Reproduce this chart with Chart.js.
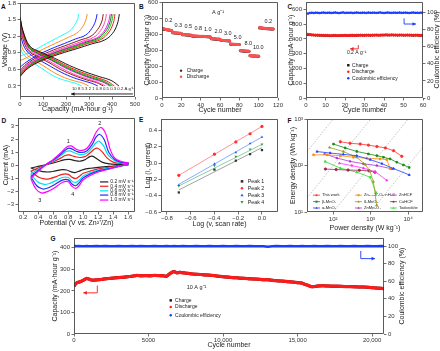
<!DOCTYPE html>
<html>
<head>
<meta charset="utf-8">
<script src="https://cdn.jsdelivr.net/npm/chart.js@4.4.1/dist/chart.umd.min.js"></script>
<style>
html, body { margin: 0; padding: 0; background: #fff; }
body { width: 440px; height: 351px; position: relative; overflow: hidden; font-family: "Liberation Sans", Arial, sans-serif; }
canvas { position: absolute; }
.lab { position: absolute; font-weight: bold; font-size: 6.5px; line-height: 1; color: #111; }
</style>
</head>
<body>
<div class="lab" style="left:1px;top:4px">A</div>
<div class="lab" style="left:139px;top:3.5px">B</div>
<div class="lab" style="left:287.5px;top:3.5px">C</div>
<div class="lab" style="left:1.5px;top:117.5px">D</div>
<div class="lab" style="left:139px;top:117px">E</div>
<div class="lab" style="left:287.5px;top:117.5px">F</div>
<div class="lab" style="left:50.5px;top:236px">G</div>
<canvas id="cA"></canvas>
<canvas id="cB"></canvas>
<canvas id="cC"></canvas>
<canvas id="cD"></canvas>
<canvas id="cE"></canvas>
<canvas id="cF"></canvas>
<canvas id="cG"></canvas>
<script>
// ---------- A: charge / discharge profiles ----------
const ratesA = ['0.2', '0.3', '0.5', '0.8', '1.0', '2.0', '3.0', '5.0', '8.0', '10'];
const disCap = [
  [0, 13, 43, 86, 151, 215, 280, 344, 396, 430],
  [0, 12, 41, 82, 144, 205, 267, 328, 377, 410],
  [0, 12, 40, 80, 141, 201, 261, 322, 370, 402],
  [0, 12, 40, 79, 138, 198, 257, 316, 363, 395],
  [0, 12, 39, 78, 137, 195, 254, 312, 359, 390],
  [0, 11, 37, 74, 130, 186, 242, 298, 342, 372],
  [0, 11, 36, 72, 127, 181, 235, 290, 333, 362],
  [0, 10, 34, 68, 118, 169, 220, 270, 311, 338],
  [0, 9, 30, 60, 104, 149, 194, 238, 274, 298],
  [0, 8, 27, 54, 94, 134, 174, 214, 247, 268]
];
const disV = [
  [1.55, 1.3, 1.02, 0.92, 0.8, 0.67, 0.56, 0.47, 0.4, 0.3],
  [1.55, 1.29, 1.01, 0.91, 0.79, 0.66, 0.55, 0.46, 0.39, 0.3],
  [1.54, 1.28, 1.0, 0.9, 0.78, 0.65, 0.54, 0.45, 0.38, 0.3],
  [1.53, 1.27, 0.99, 0.89, 0.77, 0.64, 0.53, 0.44, 0.38, 0.3],
  [1.52, 1.25, 0.98, 0.88, 0.76, 0.63, 0.52, 0.43, 0.37, 0.3],
  [1.5, 1.22, 0.96, 0.86, 0.74, 0.61, 0.5, 0.42, 0.36, 0.3],
  [1.45, 1.18, 0.94, 0.84, 0.72, 0.59, 0.49, 0.41, 0.36, 0.3],
  [1.38, 1.1, 0.91, 0.81, 0.69, 0.57, 0.47, 0.4, 0.35, 0.3],
  [1.22, 1.0, 0.87, 0.77, 0.66, 0.54, 0.45, 0.39, 0.35, 0.3],
  [1.1, 0.92, 0.82, 0.73, 0.62, 0.51, 0.43, 0.38, 0.34, 0.3]
];
const chgCap = [
  [0, 35, 95, 173, 251, 311, 367, 402, 423, 432],
  [0, 33, 91, 165, 240, 297, 351, 384, 405, 413],
  [0, 32, 89, 162, 235, 292, 344, 377, 397, 405],
  [0, 32, 88, 159, 231, 287, 338, 370, 390, 398],
  [0, 31, 86, 157, 227, 282, 333, 365, 384, 392],
  [0, 30, 83, 150, 218, 271, 320, 350, 368, 376],
  [0, 29, 80, 145, 210, 261, 308, 337, 355, 362],
  [0, 27, 74, 134, 194, 241, 285, 312, 328, 335],
  [0, 23, 64, 117, 169, 210, 248, 272, 286, 292],
  [0, 20, 56, 102, 148, 184, 217, 237, 250, 255]
];
const chgV = [
  [0.47, 0.62, 0.76, 0.88, 0.98, 1.06, 1.13, 1.25, 1.42, 1.6],
  [0.48, 0.63, 0.77, 0.89, 0.99, 1.07, 1.14, 1.26, 1.43, 1.6],
  [0.5, 0.64, 0.78, 0.9, 1.0, 1.08, 1.15, 1.27, 1.44, 1.6],
  [0.52, 0.65, 0.79, 0.91, 1.01, 1.09, 1.16, 1.28, 1.44, 1.6],
  [0.54, 0.67, 0.8, 0.92, 1.02, 1.1, 1.17, 1.29, 1.45, 1.6],
  [0.56, 0.68, 0.81, 0.93, 1.03, 1.11, 1.18, 1.3, 1.45, 1.6],
  [0.58, 0.7, 0.83, 0.95, 1.05, 1.13, 1.2, 1.32, 1.46, 1.6],
  [0.64, 0.73, 0.85, 0.97, 1.07, 1.15, 1.22, 1.34, 1.47, 1.6],
  [0.76, 0.8, 0.89, 1.0, 1.1, 1.18, 1.26, 1.37, 1.49, 1.6],
  [0.84, 0.87, 0.93, 1.04, 1.14, 1.22, 1.3, 1.4, 1.5, 1.6]
];

// ---------- B: rate performance ----------
const disB = [
  436, 433, 431, 429, 428, 427, 426, 425, 424, 423,
  410, 409, 408, 408, 407, 407, 406, 406, 405, 405,
  398, 397, 397, 396, 396, 395, 395, 395, 394, 394,
  390, 389, 389, 388, 388, 388, 387, 387, 387, 386,
  387, 386, 386, 385, 385, 385, 384, 384, 384, 383,
  372, 371, 371, 370, 370, 370, 369, 369, 369, 368,
  362, 361, 361, 360, 360, 360, 359, 359, 359, 358,
  339, 338, 337, 337, 336, 336, 336, 335, 335, 335,
  297, 296, 296, 295, 295, 295, 294, 294, 294, 293,
  266, 265, 264, 264, 263, 263, 263, 262, 262, 262,
  442, 440, 439, 438, 437, 436, 436, 435, 435, 434, 434, 433, 433, 432, 432
];
const chgB = [
  430, 431, 429, 428, 427, 426, 425, 424, 423, 422,
  408, 408, 407, 406, 406, 405, 405, 404, 404, 404,
  396, 396, 395, 395, 394, 394, 394, 393, 393, 393,
  388, 388, 387, 387, 387, 386, 386, 386, 385, 385,
  385, 385, 384, 384, 384, 383, 383, 383, 382, 382,
  370, 370, 369, 369, 369, 368, 368, 368, 367, 367,
  360, 360, 359, 359, 359, 358, 358, 358, 357, 357,
  337, 337, 336, 336, 335, 335, 335, 334, 334, 334,
  295, 295, 294, 294, 294, 293, 293, 293, 292, 292,
  264, 264, 263, 263, 262, 262, 262, 261, 261, 261,
  438, 439, 438, 437, 436, 435, 435, 434, 434, 433, 433, 432, 432, 431, 431
];
const rateLabB = ['0.2', '0.3', '0.5', '0.8', '1.0', '2.0', '3.0', '5.0', '8.0', '10.0', '0.2'];
const rateLabX = [6.7, 16.9, 27.2, 37.6, 47.3, 58.3, 68, 78.3, 89.3, 99.6, 110];
const rateLabY = [483, 456, 450, 436, 429, 414, 404, 377, 342, 314, 477];

// ---------- C: cycling at 0.2 A/g ----------
const disC = [
  432, 430, 428, 427, 426, 426, 425, 425, 424, 424,
  424, 423, 423, 424, 424, 423, 423, 424, 424, 425,
  424, 424, 425, 425, 424, 425, 425, 426, 425, 425,
  426, 426, 425, 426, 426, 427, 426, 426, 427, 427,
  428, 427, 427, 428, 427, 427, 426, 427, 427, 426,
  426, 427, 426, 426, 425, 426, 426, 425, 425, 425
];
const chgC = [
  428, 428, 427, 426, 425, 425, 424, 424, 423, 423,
  423, 422, 422, 423, 423, 422, 422, 423, 423, 424,
  423, 423, 424, 424, 423, 424, 424, 425, 424, 424,
  425, 425, 424, 425, 425, 426, 425, 425, 426, 426,
  427, 426, 426, 427, 426, 426, 425, 426, 426, 425,
  425, 426, 425, 425, 424, 425, 425, 424, 424, 424
];
const ceC = [
  98.6, 99.4, 99.6, 99.3, 99.7, 99.5, 99.2, 99.6, 99.8, 99.4,
  99.5, 99.7, 99.3, 99.6, 99.8, 99.5, 99.2, 99.6, 99.9, 99.4,
  99.6, 99.5, 99.7, 99.3, 99.6, 99.8, 99.5, 99.4, 99.7, 99.6,
  99.3, 99.8, 99.5, 99.6, 99.7, 99.4, 99.6, 99.9, 99.5, 99.3,
  99.6, 99.8, 99.5, 99.4, 99.7, 99.6, 99.5, 99.8, 99.4, 99.6,
  99.7, 99.5, 99.3, 99.6, 99.8, 99.5, 99.6, 99.4, 99.7, 99.5
];

// ---------- D: CV curves (V, mA) ----------
const scanD = ['0.2 mV s⁻¹', '0.4 mV s⁻¹', '0.6 mV s⁻¹', '0.8 mV s⁻¹', '1.0 mV s⁻¹'];
const cv02 = [[0.3,-0.2],[0.4,-0.08],[0.5,0.05],[0.6,0.18],[0.7,0.35],[0.76,0.44],[0.82,0.45],[0.9,0.35],[0.96,0.32],[1.03,0.45],[1.08,0.65],[1.12,0.7],[1.18,0.5],[1.25,0.25],[1.35,0.12],[1.45,0.08],[1.6,0.06],
  [1.6,0.04],[1.5,-0.02],[1.4,-0.05],[1.3,-0.1],[1.2,-0.15],[1.1,-0.22],[1.0,-0.32],[0.94,-0.45],[0.89,-0.55],[0.84,-0.5],[0.78,-0.35],[0.72,-0.32],[0.63,-0.42],[0.55,-0.5],[0.46,-0.47],[0.38,-0.35],[0.3,-0.2]];
const cv04 = [[0.3,-0.45],[0.4,-0.2],[0.5,0.05],[0.6,0.28],[0.7,0.55],[0.76,0.75],[0.81,0.8],[0.88,0.68],[0.96,0.6],[1.04,0.72],[1.1,1.0],[1.15,1.25],[1.19,1.3],[1.25,1.05],[1.32,0.55],[1.4,0.25],[1.5,0.15],[1.6,0.12],
  [1.6,0.08],[1.5,-0.03],[1.4,-0.1],[1.3,-0.18],[1.2,-0.27],[1.1,-0.42],[1.0,-0.6],[0.95,-0.82],[0.9,-1.0],[0.85,-0.9],[0.8,-0.68],[0.72,-0.68],[0.63,-0.88],[0.55,-1.02],[0.5,-1.05],[0.4,-0.88],[0.3,-0.45]];
const cv06 = [[0.3,-0.65],[0.4,-0.3],[0.5,0.05],[0.6,0.35],[0.7,0.75],[0.77,1.05],[0.82,1.1],[0.9,0.92],[0.97,0.82],[1.05,0.95],[1.12,1.35],[1.17,1.72],[1.21,1.85],[1.27,1.5],[1.33,0.8],[1.42,0.35],[1.5,0.2],[1.6,0.15],
  [1.6,0.1],[1.5,-0.04],[1.4,-0.15],[1.3,-0.25],[1.2,-0.35],[1.1,-0.55],[1.0,-0.8],[0.95,-1.1],[0.9,-1.3],[0.85,-1.2],[0.8,-0.92],[0.72,-0.92],[0.62,-1.2],[0.54,-1.4],[0.48,-1.45],[0.39,-1.25],[0.3,-0.65]];
const cv08 = [[0.3,-0.85],[0.4,-0.38],[0.5,0.05],[0.6,0.4],[0.7,0.85],[0.78,1.25],[0.83,1.3],[0.9,1.1],[0.97,0.98],[1.05,1.12],[1.12,1.6],[1.17,2.15],[1.22,2.35],[1.28,1.95],[1.34,1.0],[1.42,0.45],[1.5,0.25],[1.6,0.18],
  [1.6,0.12],[1.5,-0.05],[1.4,-0.18],[1.3,-0.3],[1.2,-0.42],[1.1,-0.65],[1.0,-0.95],[0.95,-1.3],[0.9,-1.55],[0.85,-1.42],[0.8,-1.1],[0.72,-1.12],[0.62,-1.45],[0.53,-1.72],[0.46,-1.8],[0.38,-1.55],[0.3,-0.85]];
const cv10 = [[0.3,-1.0],[0.4,-0.45],[0.5,0.05],[0.6,0.45],[0.7,0.95],[0.78,1.4],[0.84,1.48],[0.9,1.25],[0.97,1.12],[1.05,1.3],[1.12,1.9],[1.18,2.6],[1.24,2.88],[1.3,2.4],[1.36,1.2],[1.42,0.55],[1.5,0.3],[1.6,0.2],
  [1.6,0.15],[1.5,-0.05],[1.4,-0.2],[1.3,-0.35],[1.2,-0.5],[1.1,-0.75],[1.0,-1.1],[0.95,-1.5],[0.9,-1.75],[0.85,-1.6],[0.8,-1.25],[0.72,-1.3],[0.62,-1.7],[0.52,-2.0],[0.44,-2.1],[0.37,-1.8],[0.3,-1.0]];

// ---------- E: log(i) vs log(v) ----------
const logV = [-0.7, -0.4, -0.22, -0.1, 0];
const peak1 = [-0.36, -0.08, 0.03, 0.11, 0.16];
const peak2 = [-0.15, 0.11, 0.26, 0.36, 0.45];
const peak3 = [-0.27, -0.01, 0.13, 0.24, 0.32];
const peak4 = [-0.28, -0.03, 0.08, 0.17, 0.23];
const fitX = [-0.7, 0];
const fit1 = [-0.33, 0.19];
const fit2 = [-0.15, 0.45];
const fit3 = [-0.26, 0.32];
const fit4 = [-0.28, 0.23];

// ---------- F: Ragone plot (W/kg, Wh/kg) ----------
const thisP = [155, 282, 525, 870, 1470, 2470, 4100, 6800];
const thisE = [325, 302, 290, 275, 257, 240, 209, 158];
const betaP = [102, 209, 427, 870, 1470, 2200, 3300, 5000, 7500, 10700];
const betaE = [290, 240, 201, 178, 163, 151, 139, 118, 103, 91];
const alphaP = [37, 83, 187, 427, 975, 2000, 4100, 10700];
const alphaE = [200, 186, 174, 163, 134, 110, 86, 63];
const znvP = [30, 68, 155, 347, 790, 1780, 2700, 3300];
const znvE = [170, 170, 163, 151, 144, 139, 134, 86];
const deltaP = [80, 187, 427, 720, 960, 1180, 1450];
const deltaE = [245, 200, 150, 105, 75, 45, 14];
const znmnP = [59, 126, 282, 645, 1470, 3700];
const znmnE = [178, 145, 123, 109, 100, 85];
const znhcfP = [147, 315, 645, 1320, 2700];
const znhcfE = [112, 100, 88, 74, 48];
const cuhcfP = [62, 120, 250, 500, 900, 1300];
const cuhcfE = [84, 82, 80, 79, 77, 72];
const todoP = [61, 155, 427, 975, 1400];
const todoE = [122, 88, 72, 56, 26];
const guideP = [[20, 100], [20, 1000], [100, 10000], [1000, 25000]];
const guideE = [[200, 1000], [20, 1000], [10, 1000], [10, 250]];

// ---------- G: long cycling at 10 A/g ----------
const cycG = [0, 100, 200, 300, 500, 700, 850, 1000, 1200, 1500,
  1800, 2100, 2400, 2700, 3000, 3300, 3600, 3900, 4200, 4500,
  4800, 5100, 5400, 5700, 6000, 6200, 6400, 6600, 6700, 6900,
  7100, 7300, 7600, 7900, 8200, 8500, 8800, 9100, 9400, 9700,
  10000, 10300, 10600, 10900, 11200, 11500, 11800, 12100, 12400, 12700,
  13000, 13300, 13600, 13900, 14200, 14500, 14800, 15100, 15300, 15500,
  15700, 15900, 16100, 16400, 16700, 17000, 17300, 17600, 17900, 18200,
  18500, 18800, 19100, 19400, 19700, 20000, 20300, 20600, 20800];
const disG = [222, 232, 238, 240, 245, 252, 258, 255, 250, 251,
  253, 256, 258, 260, 262, 263, 266, 268, 272, 270,
  271, 270, 272, 271, 270, 268, 278, 287, 290, 284,
  286, 284, 282, 279, 277, 276, 274, 273, 271, 268,
  266, 264, 262, 261, 259, 258, 256, 255, 254, 252,
  252, 249, 247, 246, 244, 242, 240, 238, 236, 230,
  226, 220, 220, 223, 224, 223, 222, 222, 221, 220,
  220, 219, 218, 218, 217, 215, 213, 212, 210];
const ceG = [99.6, 99.9, 99.8, 99.9, 99.7, 99.8, 99.9, 99.8, 99.7, 99.9,
  99.8, 99.9, 99.7, 99.8, 99.9, 99.8, 99.7, 99.9, 99.8, 99.9,
  99.8, 99.7, 99.9, 99.8, 99.8, 99.9, 99.7, 99.8, 99.9, 99.8,
  99.7, 99.9, 99.8, 99.8, 99.9, 99.7, 99.8, 99.9, 99.8, 99.7,
  99.9, 99.8, 99.8, 99.9, 99.7, 99.8, 99.9, 99.8, 99.7, 99.8,
  99.2, 99.8, 99.9, 99.7, 99.8, 99.9, 99.8, 99.7, 99.9, 99.8,
  99.8, 99.7, 99.9, 99.8, 99.8, 99.9, 99.7, 99.8, 99.9, 99.8,
  99.7, 99.9, 99.8, 99.8, 99.9, 99.7, 99.8, 99.9, 99.8];

// ================= drawing =================
const FF = '"Liberation Sans", Arial, Helvetica, sans-serif';
Chart.defaults.font.family = FF;
const DECO = {};

const fmt1 = v => (v < 0 ? '\u2212' : '') + Math.abs(v).toFixed(1);
const fmtI = v => (v < 0 ? '\u2212' : '') + Math.abs(v);
const sup = {1: '¹', 2: '²', 3: '³', 4: '⁴'};
const fmtLog = v => '10' + sup[Math.round(Math.log10(v))];
const fmtK = v => v >= 10000 ? v.toLocaleString('en-US') : String(v);

// pos, range, tick values, title, reserved size, label format, scale type, tick padding
function axis(pos, min, max, ticks, title, size, fmt, type, tpad) {
  return {
    type: type || 'linear', position: pos, min: min, max: max,
    afterBuildTicks: s => { s.ticks = ticks.map(v => ({ value: v })); },
    afterFit: s => { if (pos === 'bottom') s.height = size; else s.width = size; },
    grid: { drawOnChartArea: false, drawTicks: true, tickLength: 2.5, color: '#333', lineWidth: 0.7 },
    border: { display: false },
    ticks: { font: { size: 6 }, color: '#333', padding: tpad !== undefined ? tpad : (pos === 'bottom' ? 1 : 1.5), maxRotation: 0, autoSkip: false, callback: v => fmt(v) },
    title: { display: !!title && pos !== 'right', text: title, font: { size: 7 }, color: '#222', padding: 0 }
  };
}

function mark(ctx, m, x, y, r, c) {
  ctx.fillStyle = c;
  ctx.beginPath();
  if (m === 'rect') ctx.rect(x - r, y - r, 2 * r, 2 * r);
  else if (m === 'tri') { ctx.moveTo(x, y - r * 1.3); ctx.lineTo(x + r * 1.2, y + r * 0.8); ctx.lineTo(x - r * 1.2, y + r * 0.8); ctx.closePath(); }
  else if (m === 'dtri') { ctx.moveTo(x, y + r * 1.3); ctx.lineTo(x + r * 1.2, y - r * 0.8); ctx.lineTo(x - r * 1.2, y - r * 0.8); ctx.closePath(); }
  else ctx.arc(x, y, r, 0, Math.PI * 2);
  ctx.fill();
}

const decoPlugin = {
  id: 'deco',
  afterDraw(chart) {
    const d = DECO[chart.canvas.id] || {};
    const ctx = chart.ctx, a = chart.chartArea, sc = chart.scales;
    const X = v => sc.x.getPixelForValue(v);
    const Y = (v, ax) => sc[ax || 'y'].getPixelForValue(v);
    ctx.save();
    ctx.strokeStyle = '#333';
    ctx.lineWidth = 0.8;
    ctx.strokeRect(a.left + 0.5, a.top + 0.5, a.right - a.left - 1, a.bottom - a.top - 1);
    ctx.textBaseline = 'middle';
    (d.texts || []).forEach(t => {
      ctx.font = (t.s || 5.5) + 'px ' + FF;
      ctx.fillStyle = t.c || '#222';
      ctx.textAlign = t.al || 'center';
      ctx.fillText(t.t, X(t.x), Y(t.y, t.ax));
    });
    (d.arrows || []).forEach(ar => {
      const p = ar.pts.map(q => [X(q[0]), Y(q[1], ar.ax)]);
      ctx.strokeStyle = ar.c; ctx.fillStyle = ar.c; ctx.lineWidth = 0.9;
      ctx.beginPath();
      p.forEach((q, i) => i ? ctx.lineTo(q[0], q[1]) : ctx.moveTo(q[0], q[1]));
      ctx.stroke();
      const [x2, y2] = p[p.length - 1], [x1, y1] = p[p.length - 2];
      const an = Math.atan2(y2 - y1, x2 - x1), L = 3.5, W = 1.8;
      const bx = x2 - L * Math.cos(an), by = y2 - L * Math.sin(an);
      ctx.beginPath();
      ctx.moveTo(x2, y2);
      ctx.lineTo(bx - W * Math.sin(an), by + W * Math.cos(an));
      ctx.lineTo(bx + W * Math.sin(an), by - W * Math.cos(an));
      ctx.closePath();
      ctx.fill();
    });
    (d.keys || []).forEach(k => {
      const y = Y(k.y, k.ax);
      if (k.line) {
        ctx.strokeStyle = k.c; ctx.lineWidth = k.lw || 0.9;
        ctx.beginPath(); ctx.moveTo(X(k.line[0]), y); ctx.lineTo(X(k.line[1]), y); ctx.stroke();
      }
      if (k.m) mark(ctx, k.m, X(k.x), y, k.r || 1.2, k.c);
      ctx.font = (k.s || 5) + 'px ' + FF;
      ctx.textAlign = 'left';
      ctx.fillStyle = '#222';
      ctx.fillText(k.t, X(k.tx), y);
    });
    if (d.rtitle) {
      ctx.translate(chart.width - 4.2, (a.top + a.bottom) / 2);
      ctx.rotate(-Math.PI / 2);
      ctx.font = '7px ' + FF; ctx.textAlign = 'center'; ctx.fillStyle = '#222';
      ctx.fillText(d.rtitle, 0, 0);
    }
    ctx.restore();
  }
};

function panel(id, area, pad, datasets, scales) {
  const cv = document.getElementById(id);
  const w = area.r - area.l + pad.l + pad.r, h = area.b - area.t + pad.t + pad.b;
  cv.width = w; cv.height = h;
  cv.style.left = (area.l - pad.l) + 'px';
  cv.style.top = (area.t - pad.t) + 'px';
  cv.style.width = w + 'px';
  cv.style.height = h + 'px';
  const right = Object.values(scales).some(s => s.position === 'right');
  return new Chart(cv, {
    type: 'scatter',
    data: { datasets: datasets },
    options: {
      responsive: false, animation: false, devicePixelRatio: 1,
      layout: { autoPadding: false, padding: { left: 0, top: pad.t, right: right ? 0 : pad.r, bottom: 0 } },
      plugins: { legend: { display: false }, tooltip: { enabled: false } },
      scales: scales
    },
    plugins: [decoPlugin]
  });
}

const xy = (xs, ys) => xs.map((x, i) => ({ x: x, y: ys[i] }));
const pairs = arr => arr.map(p => ({ x: p[0], y: p[1] }));
const curve = (data, c, w, extra) => Object.assign({ data: data, showLine: true, borderColor: c, backgroundColor: c, borderWidth: w || 0.9, pointRadius: 0, tension: 0.4 }, extra || {});
const dots = (data, c, r, style, extra) => Object.assign({ data: data, showLine: false, backgroundColor: c, borderColor: c, borderWidth: 0, pointRadius: r, pointStyle: style || 'circle' }, extra || {});

// ---- A ----
const colA = ['#000000', '#ff0000', '#00c000', '#006400', '#ff00ff', '#ff3399', '#800000', '#0000ff', '#ff8000', '#00ffff'];
const dsA = [];
ratesA.forEach((r, i) => {
  dsA.push(curve(xy(chgCap[i], chgV[i]), colA[i]));
  dsA.push(curve(xy(disCap[i], disV[i]), colA[i]));
});
DECO.cA = {
  texts: [{ x: 226, y: 0.25, t: '10 8 5 3 2 1 0.8 0.5 0.3 0.2 A g⁻¹', s: 4.3, al: 'left' }],
  arrows: [{ pts: [[491, 0.155], [222, 0.155]], c: '#111' }]
};
panel('cA', { l: 20, t: 3, r: 135, b: 97 }, { l: 19, r: 7, t: 5, b: 16 }, dsA, {
  x: axis('bottom', 0, 500, [0, 100, 200, 300, 400, 500], 'Capacity (mA·hour g⁻¹)', 16, fmtI),
  y: axis('left', 0.1, 1.8, [0.3, 0.6, 0.9, 1.2, 1.5, 1.8], 'Voltage (V)', 19, fmt1)
});

// ---- B ----
const cycB = disB.map((v, i) => i + 1);
DECO.cB = {
  texts: [{ x: 58, y: 537, t: 'A g⁻¹', s: 5.5 }].concat(rateLabB.map((t, i) => ({ x: rateLabX[i], y: rateLabY[i], t: t, s: 5.5 }))),
  keys: [
    { x: 19.7, y: 171, tx: 25.5, t: 'Charge', m: 'circle', c: '#333' },
    { x: 19.7, y: 133, tx: 25.5, t: 'Discharge', m: 'circle', c: '#ff5050' }
  ]
};
panel('cB', { l: 162, t: 2, r: 278, b: 98 }, { l: 19, r: 7, t: 5, b: 16 }, [
  dots(xy(cycB, disB), '#ff5050', 1.5),
  dots(xy(cycB, chgB), '#333333', 1.5)
], {
  x: axis('bottom', 0, 120, [0, 20, 40, 60, 80, 100, 120], 'Cycle number', 16, fmtI),
  y: axis('left', 0, 600, [0, 100, 200, 300, 400, 500, 600], 'Capacity (mA·hour g⁻¹)', 19, fmtI)
});

// ---- C ----
const cycC = disC.map((v, i) => i + 1);
DECO.cC = {
  texts: [{ x: 21, y: 308, t: '0.2 A g⁻¹', s: 5, al: 'left' }],
  arrows: [
    { pts: [[26.8, 359], [26.8, 333], [22.6, 333]], c: '#ff1a1a' },
    { pts: [[50.3, 93], [50.3, 86.4], [56.4, 86.4]], c: '#1a3cff', ax: 'y1' }
  ],
  keys: [
    { x: 21.7, y: 222, tx: 23.6, t: 'Charge', m: 'rect', c: '#111' },
    { x: 21.7, y: 178, tx: 23.6, t: 'Discharge', m: 'circle', c: '#ff1a1a' },
    { x: 21.7, y: 134, tx: 23.6, t: 'Coulombic efficiency', m: 'circle', c: '#1a3cff' }
  ],
  rtitle: 'Coulombic efficiency (%)'
};
panel('cC', { l: 306, t: 2, r: 423, b: 98 }, { l: 19, r: 18, t: 5, b: 16 }, [
  curve(xy(cycC, ceC), '#1a3cff', 1, { yAxisID: 'y1', tension: 0, pointRadius: 1, pointStyle: 'rect' }),
  curve(xy(cycC, disC), '#ff1a1a', 1, { tension: 0, pointRadius: 1.1 }),
  curve(xy(cycC, chgC), '#111111', 1, { tension: 0, pointRadius: 1, pointStyle: 'rect' })
], {
  x: axis('bottom', 0, 60, [0, 10, 20, 30, 40, 50, 60], 'Cycle number', 16, fmtI),
  y: axis('left', 0, 650, [0, 100, 200, 300, 400, 500, 600], 'Capacity (mA·hour g⁻¹)', 19, fmtI),
  y1: axis('right', 0, 112, [0, 20, 40, 60, 80, 100], 'Coulombic efficiency (%)', 18, fmtI)
});

// ---- D ----
const colD = ['#222222', '#f01e1e', '#00e0ee', '#2030f0', '#ff00ff'];
const cvs = [cv02, cv04, cv06, cv08, cv10];
const legY = [-1.26, -1.59, -1.94, -2.26, -2.64];
DECO.cD = {
  texts: [
    { x: 0.8, y: 1.85, t: '1' }, { x: 1.22, y: 3.2, t: '2' },
    { x: 0.42, y: -2.64, t: '3' }, { x: 0.86, y: -2.21, t: '4' }
  ],
  keys: scanD.map((t, i) => ({ y: legY[i], tx: 1.36, t: t, line: [1.223, 1.334], c: colD[i], lw: 1.2 }))
};
panel('cD', { l: 18, t: 117, r: 135, b: 212 }, { l: 16, r: 6, t: 4, b: 15 },
  cvs.map((c, i) => curve(pairs(c), colD[i], 1.2, { tension: 0.35 })).reverse(), {
  x: axis('bottom', 0.13, 1.69, [0.2, 0.4, 0.6, 0.8, 1.0, 1.2, 1.4, 1.6], 'Potential (V vs. Zn²⁺/Zn)', 15, fmt1, 'linear', -0.5),
  y: axis('left', -3.55, 3.6, [-3, -2, -1, 0, 1, 2, 3], 'Current (mA)', 16, fmtI)
});

// ---- E ----
const colE = ['#333333', '#ff3030', '#2060ff', '#20a040'];
const fitCol = ['#8a8a8a', '#ff7a7a', '#6f95ff', '#6cc48a'];
const peaks = [peak1, peak2, peak3, peak4];
const fits = [fit1, fit2, fit3, fit4];
const shapesE = ['rect', 'circle', 'tri', 'dtri'];
const styleE = [{ pointStyle: 'rect' }, { pointStyle: 'circle' }, { pointStyle: 'triangle' }, { pointStyle: 'triangle', rotation: 180 }];
const keyYE = [-0.224, -0.308, -0.393, -0.478];
const dsE = [];
peaks.forEach((p, i) => dsE.push(dots(xy(logV, p), colE[i], 1.6, styleE[i].pointStyle, { rotation: styleE[i].rotation || 0 })));
fits.forEach((f, i) => dsE.push(curve(xy(fitX, f), fitCol[i], 0.8, { tension: 0 })));
DECO.cE = {
  keys: ['Peak 1', 'Peak 2', 'Peak 3', 'Peak 4'].map((t, i) => ({ x: -0.168, y: keyYE[i], tx: -0.12, t: t, m: shapesE[i], c: colE[i], r: 1.3, s: 5.3 }))
};
panel('cE', { l: 161, t: 118, r: 278, b: 212 }, { l: 17, r: 7, t: 4, b: 16 }, dsE, {
  x: axis('bottom', -0.85, 0.135, [-0.8, -0.6, -0.4, -0.2, 0], 'Log (v, scan rate)', 16, fmt1, 'linear', 0.5),
  y: axis('left', -0.6, 0.54, [-0.6, -0.4, -0.2, 0, 0.2, 0.4], 'Log (i, current)', 17, fmt1)
});

// ---- F ----
const seriesF = [
  { n: 'This work', P: thisP, E: thisE, c: '#ff3030', m: 'circle', ps: 'circle' },
  { n: 'β-MnO₂', P: betaP, E: betaE, c: '#168a16', m: 'rect', ps: 'rect' },
  { n: 'α-MnO₂', P: alphaP, E: alphaE, c: '#2040ff', m: 'tri', ps: 'triangle' },
  { n: 'Zn₀.₂₅V₂O₅·nH₂O', P: znvP, E: znvE, c: '#ff8c00', m: 'rect', ps: 'rect' },
  { n: 'δ-MnO₂', P: deltaP, E: deltaE, c: '#9a9a1a', m: 'tri', ps: 'triangle' },
  { n: 'ZnMn₂O₄', P: znmnP, E: znmnE, c: '#b030d0', m: 'tri', ps: 'triangle' },
  { n: 'ZnHCF', P: znhcfP, E: znhcfE, c: '#ff30ff', m: 'tri', ps: 'triangle' },
  { n: 'CuHCF', P: cuhcfP, E: cuhcfE, c: '#a02850', m: 'circle', ps: 'circle' },
  { n: 'Todorokite', P: todoP, E: todoE, c: '#30e030', m: 'tri', ps: 'triangle' }
];
const colX = [[28.9, 44.5, 50.3], [382, 588, 665], [3290, 5060, 5720]];
const rowY = [23.0, 16.7, 12.2];
const dsF = seriesF.map(s => curve(xy(s.P, s.E), s.c, 0.8, { tension: 0, pointRadius: 1.2, pointStyle: s.ps }));
guideP.forEach((g, i) => dsF.push(curve(xy(g, guideE[i]), '#9a9a9a', 0.6, { tension: 0, borderDash: [1.5, 1.5] })));
DECO.cF = {
  keys: seriesF.map((s, i) => {
    const col = colX[Math.floor(i / 3)], row = rowY[i % 3];
    return { x: Math.sqrt(col[0] * col[1]), y: row, tx: col[2], t: s.n, m: s.m, c: s.c, r: 1, line: [col[0], col[1]], lw: 0.8, s: 4.1 };
  })
};
panel('cF', { l: 307, t: 118, r: 423, b: 212 }, { l: 18, r: 8, t: 4, b: 20 }, dsF, {
  x: axis('bottom', 20, 25000, [100, 1000, 10000], 'Power density (W kg⁻¹)', 20, fmtLog, 'logarithmic'),
  y: axis('left', 10, 1000, [10, 100, 1000], 'Energy density (Wh kg⁻¹)', 18, fmtLog, 'logarithmic')
});

// ---- G ----
DECO.cG = {
  texts: [{ x: 7560, y: 216, t: '10 A g⁻¹', s: 5.5, al: 'left' }],
  arrows: [
    { pts: [[1564, 225], [1564, 191], [624, 191]], c: '#ff1a1a' },
    { pts: [[19240, 94.4], [19240, 85.7], [20200, 85.7]], c: '#1a3cff', ax: 'y1' }
  ],
  keys: [
    { x: 6490, y: 156, tx: 6780, t: 'Charge', m: 'rect', c: '#111' },
    { x: 6490, y: 125, tx: 6780, t: 'Discharge', m: 'circle', c: '#ff1a1a' },
    { x: 6490, y: 87, tx: 6780, t: 'Coulombic efficiency', m: 'circle', c: '#1a3cff' }
  ],
  rtitle: 'Coulombic efficiency (%)'
};
panel('cG', { l: 74, t: 237, r: 384, b: 334 }, { l: 23, r: 22, t: 4, b: 15 }, [
  curve(xy(cycG, ceG), '#1a3cff', 2.6, { yAxisID: 'y1', tension: 0 }),
  curve(xy(cycG, disG), '#ff1a1a', 3.2, { tension: 0.2 }),
  curve(xy(cycG, disG), '#111111', 3, { tension: 0.2 })
], {
  x: axis('bottom', 0, 20800, [0, 5000, 10000, 15000, 20000], 'Cycle number', 15, fmtK, 'linear', 0),
  y: axis('left', 0, 445, [0, 100, 200, 300, 400], 'Capacity (mA·hour g⁻¹)', 23, fmtI),
  y1: axis('right', 0, 109, [0, 20, 40, 60, 80, 100], 'Coulombic efficiency (%)', 22, fmtI)
});
</script>
</body>
</html>
